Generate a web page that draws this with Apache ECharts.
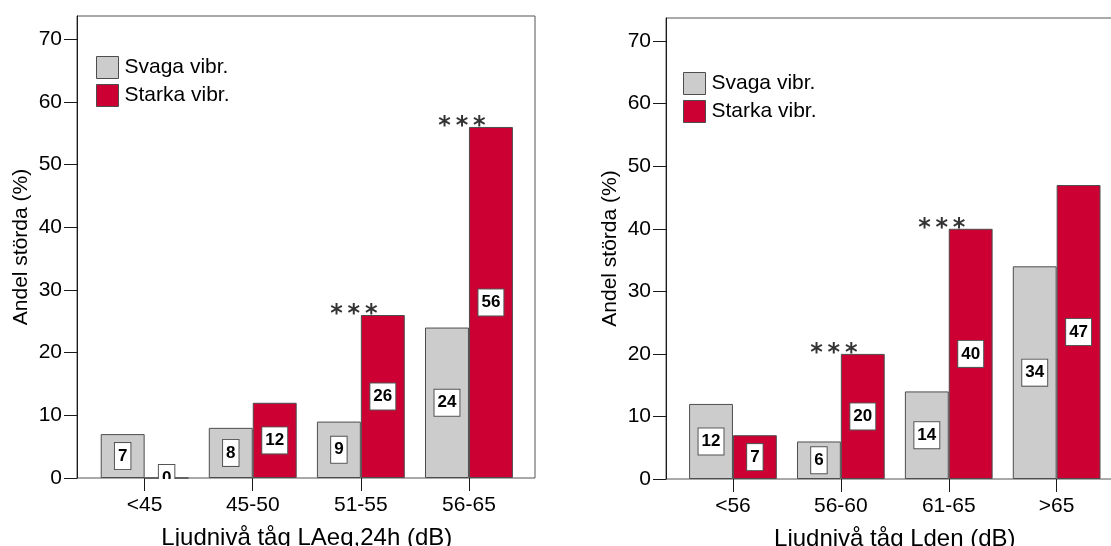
<!DOCTYPE html>
<html>
<head>
<meta charset="utf-8">
<script src="https://cdn.jsdelivr.net/npm/echarts@6/dist/echarts.min.js"></script>
<style>
  html, body { margin: 0; padding: 0; background: #fff; }
  #chart { width: 1111px; height: 546px; }
</style>
</head>
<body>
<div id="chart"></div>
<script>
// Share of disturbed respondents (%) by train noise level, weak vs strong vibrations
const seriesNames = ['Svaga vibr.', 'Starka vibr.'];

const leftCategories = ['<45', '45-50', '51-55', '56-65'];
const leftSvaga = [7, 8, 9, 24];
const leftStarka = [0, 12, 26, 56];
const leftSignificant = [false, false, true, true];
const leftTitle = 'Ljudnivå tåg LAeq,24h (dB)';

const rightCategories = ['<56', '56-60', '61-65', '>65'];
const rightSvaga = [12, 6, 14, 34];
const rightStarka = [7, 20, 40, 47];
const rightSignificant = [false, true, true, false];
const rightTitle = 'Ljudnivå tåg Lden (dB)';

const yTicks = [0, 10, 20, 30, 40, 50, 60, 70];
const yMax = 73.7;
const yTitle = 'Andel störda (%)';
const sigMark = '*\u2009*\u2009*';

const FONT = "'Liberation Sans', Arial, sans-serif";
const GRAY = '#cccccc';
const RED = '#cc0033';
const EDGE = '#4d4d4d';
const INK = '#1a1a1a';

const panels = [
  { cats: leftCategories, svaga: leftSvaga, starka: leftStarka, sig: leftSignificant, title: leftTitle,
    frame: { left: 77, top: 16, width: 458, height: 462 },
    plot: { left: 90.6, width: 432.4 },
    legend: { left: 96, top: 56 } },
  { cats: rightCategories, svaga: rightSvaga, starka: rightStarka, sig: rightSignificant, title: rightTitle,
    frame: { left: 666, top: 18, width: 457, height: 461 },
    plot: { left: 679, width: 431.6 },
    legend: { left: 683, top: 72 } }
];

const grid = [], xAxis = [], yAxis = [], series = [], legend = [];

const valueLabel = {
  show: true,
  position: 'inside',
  formatter: p => String(p.value),
  color: '#000',
  fontFamily: FONT,
  fontSize: 17,
  fontWeight: 'bold',
  backgroundColor: '#ffffff',
  borderColor: '#555555',
  borderWidth: 1,
  padding: [5, 3, 4, 3],
  lineHeight: 17
};

panels.forEach((p) => {
  const frameIdx = grid.length;
  // outer frame with the value axis
  grid.push({ show: true, borderColor: '#555555', borderWidth: 1, backgroundColor: 'transparent',
    outerBoundsMode: 'none', containLabel: false,
    left: p.frame.left, top: p.frame.top, width: p.frame.width, height: p.frame.height });
  xAxis.push({ gridIndex: frameIdx, type: 'value', show: false, min: 0, max: 1 });
  yAxis.push({
    gridIndex: frameIdx, type: 'value', min: 0, max: yMax, interval: 10,
    axisLine: { show: true, lineStyle: { color: INK, width: 1 } },
    axisTick: { show: true, length: 13, lineStyle: { color: INK }, customValues: yTicks },
    axisLabel: { margin: 15, color: '#000', fontFamily: FONT, fontSize: 21, customValues: yTicks },
    splitLine: { show: false },
    name: yTitle, nameLocation: 'middle', nameGap: 45,
    nameTextStyle: { color: '#000', fontFamily: FONT, fontSize: 21 }
  });

  // inner plot area holding the category axis and the bars
  const plotIdx = grid.length;
  grid.push({ left: p.plot.left, width: p.plot.width, top: p.frame.top, height: p.frame.height,
    outerBoundsMode: 'none', containLabel: false });
  xAxis.push({
    gridIndex: plotIdx, type: 'category', data: p.cats,
    axisLine: { show: false },
    axisTick: { show: true, alignWithLabel: true, length: 13, lineStyle: { color: INK } },
    axisLabel: { margin: 17, color: '#000', fontFamily: FONT, fontSize: 21 },
    name: p.title, nameLocation: 'middle', nameGap: 48,
    nameTextStyle: { color: '#000', fontFamily: FONT, fontSize: 24 }
  });
  yAxis.push({ gridIndex: plotIdx, type: 'value', min: 0, max: yMax, show: false });

  series.push({
    name: seriesNames[0], type: 'bar', xAxisIndex: plotIdx, yAxisIndex: plotIdx,
    data: p.svaga, barGap: '0%', barCategoryGap: '18.7%',
    itemStyle: { color: GRAY, borderColor: EDGE, borderWidth: 1 },
    label: valueLabel, emphasis: { disabled: true }
  });
  series.push({
    name: seriesNames[1], type: 'bar', xAxisIndex: plotIdx, yAxisIndex: plotIdx,
    data: p.starka, barGap: '0%', barCategoryGap: '18.7%',
    itemStyle: { color: RED, borderColor: EDGE, borderWidth: 1 },
    label: valueLabel, emphasis: { disabled: true }
  });
  // significance markers above the strong-vibration bars
  series.push({
    type: 'scatter', xAxisIndex: plotIdx, yAxisIndex: plotIdx, silent: true,
    symbolSize: 0,
    data: p.starka.map((v, k) => p.sig[k] ? v : '-'),
    label: { show: true, position: 'top', distance: 0, offset: [-7, 12],
      formatter: () => sigMark, color: '#000', fontFamily: "'DejaVu Sans', sans-serif",
      fontSize: 24, fontWeight: 'bold' }
  });

  legend.push({
    data: seriesNames, orient: 'vertical', left: p.legend.left, top: p.legend.top, padding: 0,
    itemWidth: 22, itemHeight: 22, itemGap: 5, icon: 'rect', selectedMode: false,
    textStyle: { color: '#000', fontFamily: FONT, fontSize: 21, lineHeight: 22, padding: [0, 0, 0, 1] },
    itemStyle: { borderColor: EDGE, borderWidth: 1 }
  });
});

const chart = echarts.init(document.getElementById('chart'), null, { renderer: 'canvas' });
chart.setOption({
  animation: false,
  backgroundColor: '#ffffff',
  grid, xAxis, yAxis, series, legend
});

// a zero-height bar keeps its value box sitting on the axis; hide the part below the axis line
const covers = [];
series.forEach((s, si) => {
  if (s.type !== 'bar') return;
  const data = chart.getModel().getSeriesByIndex(si).getData();
  s.data.forEach((v, k) => {
    if (v === 0) {
      const lay = data.getItemLayout(k);
      covers.push({
        type: 'rect', z: 100, silent: true,
        shape: { x: lay.x + lay.width / 2 - 14, y: lay.y + 1, width: 28, height: 15 },
        style: { fill: '#ffffff' }
      });
    }
  });
});
if (covers.length) chart.setOption({ graphic: covers });
</script>
</body>
</html>
